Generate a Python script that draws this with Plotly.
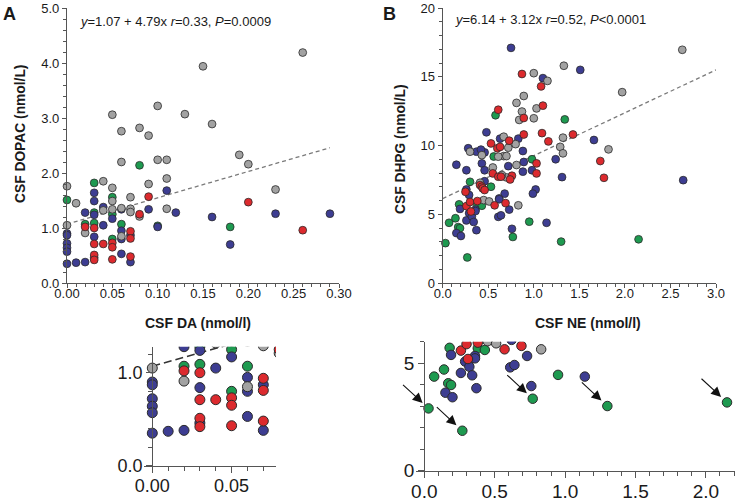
import plotly.graph_objects as go

# ---------------- Panel A data: CSF DA (x) vs CSF DOPAC (y) ----------------
a_gray_x = [0.26, 0.15, 0.10, 0.13, 0.05, 0.16, 0.06, 0.08, 0.09, 0.06, 0.10, 0.11, 0.19, 0.20, 0.11,
            0.09, 0.04, 0.00, 0.01, 0.05, 0.07, 0.05, 0.23, 0.11, 0.06, 0.05, 0.04, 0.07, 0.07, 0.08,
            0.00, 0.02, 0.06]
a_gray_y = [4.19, 3.94, 3.22, 3.07, 3.06, 2.89, 2.76, 2.82, 2.68, 2.20, 2.24, 2.24, 2.33, 2.16, 1.90,
            1.80, 1.85, 1.76, 1.45, 1.73, 1.56, 1.49, 1.70, 1.35, 1.36, 1.34, 1.32, 1.35, 1.29, 1.21,
            1.05, 0.91, 0.85]
a_red_x = [0.09, 0.20, 0.08, 0.26, 0.02, 0.03, 0.07, 0.07, 0.03, 0.04, 0.05, 0.05, 0.03, 0.03, 0.05, 0.07]
a_red_y = [1.57, 1.47, 1.25, 0.96, 1.02, 1.00, 0.94, 0.81, 0.71, 0.71, 0.73, 0.65, 0.51, 0.42, 0.43, 0.48]
a_blue_x = [0.11, 0.03, 0.03, 0.02, 0.03, 0.04, 0.06, 0.09, 0.05, 0.12, 0.16, 0.23, 0.29, 0.10, 0.04,
            0.18, 0.00, 0.00, 0.00, 0.00, 0.00, 0.00, 0.01, 0.02, 0.03, 0.03, 0.06, 0.06, 0.06, 0.07, 0.07]
a_blue_y = [1.68, 1.64, 1.49, 1.28, 1.24, 1.38, 1.34, 1.34, 1.17, 1.28, 1.20, 1.26, 1.26, 1.02, 1.05,
            0.70, 0.90, 0.87, 0.72, 0.64, 0.57, 0.35, 0.37, 0.38, 0.84, 0.46, 0.95, 0.80, 0.53, 0.87, 0.38]
a_green_x = [0.08, 0.03, 0.00, 0.05, 0.03, 0.05, 0.03, 0.02, 0.06, 0.10, 0.18, 0.05]
a_green_y = [2.14, 1.82, 1.51, 1.56, 1.28, 1.25, 1.09, 1.07, 1.07, 1.04, 1.02, 0.80]

# ---------------- Panel B data: CSF NE (x) vs CSF DHPG (y) ----------------
b_green_x = [0.58, 1.34, 0.98, 0.56, 0.30, 0.53, 0.38, 0.43, 0.18, 0.95, 0.77, 1.30, 2.15, 0.27, 0.03,
             0.07, 0.14, 0.17, 0.19]
b_green_y = [12.2, 11.9, 9.0, 9.2, 7.36, 7.0, 5.70, 5.62, 5.72, 4.46, 3.35, 3.01, 3.18, 1.86, 2.90,
             4.38, 4.71, 4.07, 3.99]
b_blue_x = [0.75, 1.51, 1.10, 0.48, 0.63, 0.83, 1.66, 0.28, 0.37, 0.46, 0.42, 0.88, 0.15, 0.43, 0.46,
            0.26, 0.72, 0.89, 0.88, 0.98, 1.24, 1.31, 2.64, 0.46, 0.26, 1.02, 0.68, 0.62, 0.99, 0.29,
            0.15, 0.20, 0.19, 0.26, 0.29, 0.32, 0.32, 0.34, 0.36, 0.37, 0.61, 0.64, 0.73, 0.76, 1.14,
            0.36, 0.62]
b_blue_y = [17.1, 15.5, 14.9, 10.96, 10.5, 10.5, 10.4, 9.8, 9.55, 9.5, 9.7, 9.6, 8.6, 8.7, 8.2,
            8.2, 8.5, 8.8, 8.1, 8.2, 9.0, 7.7, 7.48, 7.4, 6.8, 6.8, 6.5, 6.15, 6.5, 6.4,
            3.63, 3.42, 5.39, 4.55, 5.08, 5.15, 4.84, 4.44, 5.34, 3.84, 4.81, 4.92, 5.34, 3.94, 4.38,
            5.23, 6.09]
b_red_x = [0.87, 1.08, 0.61, 1.10, 0.89, 0.89, 1.09, 1.43, 1.16, 0.73, 0.53, 0.60, 0.63, 1.73, 1.77,
           1.03, 1.03, 0.55, 0.61, 0.64, 0.76, 0.74, 0.41, 0.43, 0.44, 0.46, 0.25, 0.26, 0.31, 0.30,
           0.57, 0.69, 0.38]
b_red_y = [15.2, 14.3, 12.6, 12.9, 12.0, 10.8, 10.9, 10.8, 10.3, 10.35, 10.15, 9.8, 9.9, 8.87, 7.65,
           8.7, 7.97, 7.97, 7.73, 7.73, 7.8, 7.53, 7.12, 7.0, 6.88, 6.76, 6.63, 5.59, 5.20, 5.89,
           5.65, 5.81, 5.96]
b_gray_x = [2.63, 1.33, 1.00, 1.15, 0.89, 0.81, 1.03, 0.87, 0.84, 1.00, 1.32, 1.29, 1.32, 1.97, 1.82,
            0.67, 0.80, 0.72, 0.67, 0.61, 0.70, 0.55, 0.30, 0.81, 0.70, 0.65, 0.41, 0.43, 0.45, 0.51,
            0.83]
b_gray_y = [16.96, 15.8, 15.26, 14.7, 13.6, 13.1, 12.7, 12.47, 11.86, 11.98, 10.57, 9.9, 9.43, 13.88, 9.72,
            10.64, 10.1, 9.84, 9.23, 9.19, 9.23, 8.4, 9.55, 8.58, 7.68, 7.85, 7.29, 9.3, 6.03, 5.93,
            5.65]

# arrows in the zoomed NE panel point at these green points (indices into b_green_*)
arrow_idx = [14, 13, 10, 11, 12]

# regression lines (as printed)
fit_a = dict(b0=1.07, b1=4.79, x=[0.0, 0.29], text="<i>y</i>=1.07 + 4.79x <i>r</i>=0.33, <i>P</i>=0.0009")
fit_b = dict(b0=6.14, b1=3.12, x=[0.0, 3.0], text="<i>y</i>=6.14 + 3.12x <i>r</i>=0.52, <i>P</i><0.0001")

# tick labels
a_xticks = [0.0, 0.05, 0.10, 0.15, 0.20, 0.25, 0.30]
a_yticks = [0.0, 1.0, 2.0, 3.0, 4.0, 5.0]
b_xticks = [0.0, 0.5, 1.0, 1.5, 2.0, 2.5, 3.0]
b_yticks = [0, 5, 10, 15, 20]
c_xticks = [0.0, 0.05]
c_yticks = [0.0, 1.0]
d_xticks = [0.0, 0.5, 1.0, 1.5, 2.0]
d_yticks = [0, 5]

xtitle_a, ytitle_a = "CSF DA (nmol/l)", "CSF DOPAC (nmol/L)"
xtitle_b, ytitle_b = "CSF NE (nmol/l)", "CSF DHPG (nmol/L)"

COLORS = {"green": "#1e9a50", "blue": "#3d3d92", "gray": "#a2a2a2", "red": "#dc2a2e"}
W, H = 747, 501
FONT = "Liberation Sans, Arial, Helvetica, sans-serif"


def px(x):
    return x / W


def py(y):
    return 1 - y / H


fig = go.Figure()

a_sets = [("green", a_green_x, a_green_y), ("blue", a_blue_x, a_blue_y),
          ("gray", a_gray_x, a_gray_y), ("red", a_red_x, a_red_y)]
b_sets = [("green", b_green_x, b_green_y), ("blue", b_blue_x, b_blue_y),
          ("gray", b_gray_x, b_gray_y), ("red", b_red_x, b_red_y)]


def add_panel(sets, fit, xa, ya, size, lw, clip, line_color, line_w, dash):
    fig.add_trace(go.Scatter(
        x=fit["x"], y=[fit["b0"] + fit["b1"] * v for v in fit["x"]],
        xaxis=xa, yaxis=ya, mode="lines",
        line=dict(color=line_color, width=line_w, dash=dash), hoverinfo="skip"))
    for name, xs, ys in sets:
        fig.add_trace(go.Scatter(
            x=xs, y=ys, xaxis=xa, yaxis=ya, mode="markers", cliponaxis=clip,
            marker=dict(size=size, color=COLORS[name], line=dict(color="#2b2b2b", width=lw))))


add_panel(a_sets, fit_a, "x", "y", 7.8, 0.8, False, "#7a7a7a", 1.3, "4px,3px")
add_panel(b_sets, fit_b, "x2", "y2", 7.8, 0.8, False, "#7a7a7a", 1.3, "4px,3px")
add_panel(a_sets, fit_a, "x3", "y3", 10, 1.0, True, "#333333", 1.5, "8px,4px")
add_panel(b_sets, fit_b, "x4", "y4", 9.5, 1.0, True, "#333333", 1.5, "8px,4px")


def ax_style(fs, ticklen, mticklen, vals, fmt, mdtick, rng, standoff=0):
    return dict(range=rng, showline=True, linecolor="#555555", linewidth=1.2, automargin=False,
                ticks="outside", ticklen=ticklen, tickwidth=1.1, tickcolor="#555555",
                tickmode="array", tickvals=vals, ticktext=[format(v, fmt) for v in vals],
                showgrid=False, zeroline=False, ticklabelstandoff=standoff,
                tickfont=dict(family=FONT, size=fs, color="#1a1a1a"),
                minor=dict(dtick=mdtick, tick0=0, ticklen=mticklen, tickcolor="#555555",
                           ticks="outside", showgrid=False))


# top panels
xa = ax_style(13, 4, 2.5, a_xticks, ".2f", 0.01, [0, 0.30], -6)
xa.update(domain=[px(67), px(339)], anchor="y")
ya = ax_style(13, 4, 2.5, a_yticks, ".1f", 0.2, [0, 5])
ya.update(domain=[py(283), py(8)], anchor="x")
xb = ax_style(13, 4, 2.5, b_xticks, ".1f", 0.1, [0, 3], -6)
xb.update(domain=[px(442.7), px(716)], anchor="y2")
yb = ax_style(13, 4, 2.5, b_yticks, "d", 1, [0, 20])
yb.update(domain=[py(283), py(8)], anchor="x2")

# bottom zoom panels (x axis starts a few px left so points at x=0 are not clipped)
c_x0, c_scale, c_xmax = 152.3, 1586.0, 0.078
xc = ax_style(18, 6, 4, c_xticks, ".2f", 0.01, [-8 / c_scale, c_xmax], -2)
xc.update(domain=[px(c_x0 - 8), px(c_x0 + c_xmax * c_scale)], anchor="y3")
yc = ax_style(18, 6, 4, c_yticks, ".1f", 0.2, [0, 1.28])
yc.update(domain=[py(465.7), py(346.7)], anchor="free", position=px(c_x0))

d_x0, d_scale, d_xmax = 424.3, 140.8, 2.21
xd = ax_style(19, 6, 4, d_xticks, ".1f", 0.1, [-8 / d_scale, d_xmax], -3)
xd.update(domain=[px(d_x0 - 8), px(d_x0 + d_xmax * d_scale)], anchor="y4")
yd = ax_style(19, 6, 4, d_yticks, "d", 1, [0, 6])
yd.update(domain=[py(470.7), py(341.8)], anchor="free", position=px(d_x0))

annotations = []


def txt(t, x, y, size, angle=0, xanchor="center"):
    annotations.append(dict(text=t, x=px(x), y=py(y), xref="paper", yref="paper",
                            showarrow=False, textangle=angle, xanchor=xanchor, yanchor="middle",
                            font=dict(family=FONT, size=size, color="#1a1a1a")))


txt("<b>A</b>", 9, 14, 18)
txt("<b>B</b>", 389, 14, 18)
txt(fit_a["text"], 78, 21, 13, xanchor="left")
txt(fit_b["text"], 453, 20, 13, xanchor="left")
txt("<b>" + ytitle_a + "</b>", 21, 134, 13.8, angle=-90)
txt("<b>" + ytitle_b + "</b>", 400, 149, 13.8, angle=-90)
txt("<b>" + xtitle_a + "</b>", 198, 323, 14)
txt("<b>" + xtitle_b + "</b>", 588, 323, 14)

for i in arrow_idx:
    annotations.append(dict(x=b_green_x[i], y=b_green_y[i], xref="x4", yref="y4", text="",
                            showarrow=True, ax=-27, ay=-25, axref="pixel", ayref="pixel",
                            arrowhead=2, arrowsize=1.8, arrowwidth=1.1, arrowcolor="#111111",
                            standoff=8))

fig.update_layout(
    template="none",
    width=W, height=H, margin=dict(l=0, r=0, t=0, b=0, autoexpand=False),
    paper_bgcolor="white", plot_bgcolor="white", showlegend=False,
    xaxis=xa, yaxis=ya, xaxis2=xb, yaxis2=yb, xaxis3=xc, yaxis3=yc, xaxis4=xd, yaxis4=yd,
    annotations=annotations,
)

# the page body has a default 8px margin; remove it so the figure fills the window exactly
fig.write_html("out.html", config={"displayModeBar": False},
               post_script="document.body.style.margin='0';document.body.style.overflow='hidden';")
